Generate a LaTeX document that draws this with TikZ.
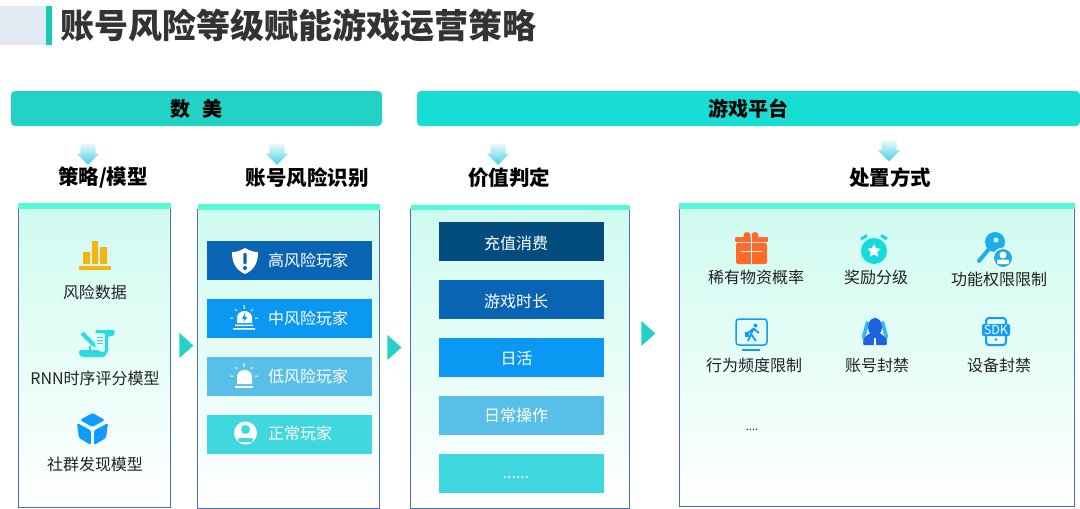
\documentclass[tikz,border=0pt]{standalone}
\usepackage{fontspec}
\setmainfont{Noto Sans CJK SC}
\usetikzlibrary{shapes.geometric,shapes.arrows}
\definecolor{titlepale}{HTML}{E2E9F3}
\definecolor{titleteal}{HTML}{12CDB6}
\definecolor{tealhead}{HTML}{22D2C6}
\definecolor{tealhead2}{HTML}{18DDD4}
\definecolor{tealbar}{HTML}{55F9D9}
\definecolor{panelline}{HTML}{4E6BBC}
\definecolor{panelfill}{HTML}{CFFBF0}
\definecolor{rowa}{HTML}{024C7E}
\definecolor{rowb}{HTML}{0A64B4}
\definecolor{rowc}{HTML}{0A98F2}
\definecolor{rowd}{HTML}{58BFE8}
\definecolor{rowe}{HTML}{3FD8DF}
\definecolor{inktext}{HTML}{222222}
\definecolor{iconblue}{HTML}{0F9BFF}
\definecolor{iconcyan}{HTML}{2ADCE0}
\definecolor{icongold}{HTML}{F5B411}
\definecolor{icongift}{HTML}{FF6A2B}
\definecolor{iconclock}{HTML}{14DCDC}
\definecolor{iconkey}{HTML}{1CAEE8}
\definecolor{icondark}{HTML}{1D63E0}
\definecolor{iconpale}{HTML}{35B8F5}
\tikzset{
  headbar/.style={rounded corners=4pt, minimum height=35pt, inner sep=0pt, font=\bfseries\fontsize{20}{20}\selectfont},
  sechead/.style={font=\bfseries\fontsize{20.5}{21}\selectfont, text=black, inner sep=0pt},
  panel/.style={draw=panelline, line width=1pt, anchor=north west, inner sep=0pt, outer sep=0pt, top color=panelfill, bottom color=white},
  panelcap/.style={fill=tealbar, anchor=north west, inner sep=0pt, outer sep=0pt, minimum height=5.5pt},
  downarr/.style={single arrow, shape border rotate=270, inner ysep=0pt, inner xsep=7.5pt, minimum height=21pt, minimum width=22pt,
    single arrow head extend=3.5pt, single arrow head indent=0pt, top color=rowe!12!white, bottom color=rowe!65!rowd},
  nextarr/.style={isosceles triangle, isosceles triangle stretches, inner sep=0pt, minimum width=25pt, minimum height=14pt, fill=tealhead},
  rowbox/.style={anchor=north west, minimum height=39pt, minimum width=165pt, inner sep=0pt, outer sep=0pt},
  rowtext/.style={anchor=west, inner sep=0pt, text=white, font=\fontsize{16}{16}\selectfont},
  valtext/.style={inner sep=0pt, text=white, font=\fontsize{16}{16}\selectfont},
  itemtext/.style={inner sep=0pt, text=inktext, font=\fontsize{16}{16}\selectfont},
  beacon/.pic={
    \draw[white, line width=1pt] (0,-13) -- (0,-9) (-14,0) -- (-11,0) (14,0) -- (11,0) (-9,-9) -- (-7,-7) (9,-9) -- (7,-7);
  }
}
\begin{document}
\begin{tikzpicture}[x=1pt,y=-1pt]
\useasboundingbox (0,0) rectangle (1080,509);
\fill[white] (0,0) rectangle (1080,509);

\fill[titlepale] (0,6) rectangle (46,45);
\fill[titleteal] (46,6) rectangle (52,45);
\node[anchor=west, inner sep=0pt, text=black!80, font=\bfseries\fontsize{34}{34}\selectfont] (title) at (60,26) {账号风险等级赋能游戏运营策略};

\node[headbar, fill=tealhead, minimum width=371pt] (shumei) at (196.5,108.5) {数\hspace{0.65em}美};
\node[headbar, fill=tealhead2, minimum width=663pt] (platform) at (748.5,108.5) {游戏平台};

\node[downarr] (down1) at (88,150.5) {};
\node[downarr] (down2) at (277,150.5) {};
\node[downarr] (down3) at (498,150.5) {};
\node[downarr] (down4) at (889,147) {};

\node[sechead] (model) at (103,178) {策略/模型};
\node[sechead] (risk) at (307,178) {账号风险识别};
\node[sechead] (value) at (509,178) {价值判定};
\node[sechead] (action) at (890,178) {处置方式};

\node[panel, minimum width=152pt, minimum height=299pt] (panela) at (18.5,208) {};
\node[panel, minimum width=182pt, minimum height=299pt] (panelb) at (197.5,209) {};
\node[panel, minimum width=219pt, minimum height=299pt] (panelc) at (410.5,209) {};
\node[panel, minimum width=395pt, minimum height=298pt] (paneld) at (679.5,208) {};
\node[panelcap, minimum width=153pt] (capa) at (18,203) {};
\node[panelcap, minimum width=182pt] (capb) at (198,204) {};
\node[panelcap, minimum width=219pt] (capc) at (410.5,204.5) {};
\node[panelcap, minimum width=396pt] (capd) at (679,203) {};

\node[nextarr] (next1) at (185,345.5) {};
\node[nextarr] (next2) at (393,347.5) {};
\node[nextarr] (next3) at (647,333.5) {};

% panel a
\fill[icongold] (83,252) rectangle (90,264) (92,241) rectangle (98,264) (100,247) rectangle (107,264) (79,266) rectangle (111,270);
\node[itemtext] (riskdata) at (95,292) {风险数据};
\fill[iconcyan, rounded corners=1.5pt] (95,330) -- (115,330) -- (114,336) -- (108,336) -- (108,352) -- (104,357) -- (81,357) -- (79,354) -- (79,350) -- (100,350) -- (100,352) -- (105,352) -- (105,333) -- (95,333) -- cycle;
\draw[iconcyan, line width=1pt] (97,337) -- (103,337) (97,340) -- (103,340) (97,343) -- (103,343);
\draw[iconcyan, line width=4pt] (82,333) -- (92,343);
\fill[iconcyan] (90,345) -- (94,341) -- (96,347) -- cycle;
\draw[iconcyan, line width=1.2pt] (90,346) -- (90,350);
\node[itemtext] (rnnmodel) at (95,378) {RNN时序评分模型};
\fill[iconblue, rounded corners=1.5pt] (92.5,413) -- (105,420) -- (92.5,427) -- (80,420) -- cycle;
\fill[iconblue, rounded corners=1.5pt] (77,423) -- (91,430.5) -- (91,445) -- (79,438) -- cycle;
\fill[iconblue, rounded corners=1.5pt] (108,423) -- (94,430.5) -- (94,445) -- (106,438) -- cycle;
\node[itemtext] (community) at (95,464) {社群发现模型};

% panel b
\node[rowbox, fill=rowb] (high) at (207,241) {};
\node[rowbox, fill=rowc] (mid) at (207,299) {};
\node[rowbox, fill=rowd] (low) at (207,357) {};
\node[rowbox, fill=rowe] (normal) at (207,415) {};
\node[rowtext] (hightext) at (268,260.5) {高风险玩家};
\node[rowtext] (midtext) at (268,318) {中风险玩家};
\node[rowtext] (lowtext) at (268,376.5) {低风险玩家};
\node[rowtext] (normaltext) at (268,433) {正常玩家};
\fill[white] (245,248) .. controls (238,252) and (235,252) .. (232,252) .. controls (232,263) and (236,270) .. (245,274) .. controls (254,270) and (258,263) .. (258,252) .. controls (255,252) and (252,252) .. (245,248) -- cycle;
\fill[rowb, rounded corners=1pt] (243.3,253) rectangle (246.7,264);
\fill[rowb] (245,268) circle[radius=2];
\pic at (244,318) {beacon};
\fill[white] (237,323) -- (237,318) .. controls (237,314) and (240,311) .. (244.5,311) .. controls (249,311) and (252,314) .. (252,318) -- (252,323) -- cycle;
\fill[rowc] (245,313) -- (242,319) -- (244.5,319) -- (243.5,322) -- (247.5,317) -- (245,317) -- cycle;
\fill[white] (235,324.5) rectangle (253,326) (233,328) rectangle (255,329.5);
\pic at (244,376) {beacon};
\fill[white] (237,384) -- (237,377) .. controls (237,373) and (240,370) .. (244.5,370) .. controls (249,370) and (252,373) .. (252,377) -- (252,384) -- cycle;
\fill[white] (235,386) rectangle (253,387.5);
\fill[white] (245.5,433) circle[radius=11.5];
\fill[rowe] (245.5,429.5) circle[radius=4.5];
\fill[rowe, rounded corners=2pt] (238,442) -- (238,438) -- (253,438) -- (253,442) -- cycle;

% panel c
\node[rowbox, fill=rowa] (recharge) at (439,222) {};
\node[rowbox, fill=rowb] (playtime) at (439,280) {};
\node[rowbox, fill=rowc] (dau) at (439,338) {};
\node[rowbox, fill=rowd] (daily) at (439,396) {};
\node[rowbox, fill=rowe] (moreval) at (439,454) {};
\node[valtext] (rechargetext) at (516,243) {充值消费};
\node[valtext] (playtimetext) at (516,301.5) {游戏时长};
\node[valtext] (dautext) at (516.5,358.5) {日活};
\node[valtext] (dailytext) at (516,415.5) {日常操作};
\node[valtext] (morevaltext) at (516,477.5) {......};

% panel d
\fill[icongift] (747,235.5) circle[radius=3.5] (755,235.5) circle[radius=3.5];
\fill[icongift, rounded corners=1pt] (735,237) rectangle (768,242);
\fill[icongift, rounded corners=2pt] (736,243) rectangle (767,264);
\draw[white, line width=1pt] (751,237) -- (751,264) (741,251) -- (762,251);
\node[itemtext] (rareitem) at (756,277) {稀有物资概率};
\fill[iconclock] (874,251) circle[radius=13];
\draw[iconclock, line width=3pt] (861,239) -- (867,235.5) (887,239) -- (881,235.5);
\node[star, star points=5, star point ratio=2, fill=white, inner sep=0pt, minimum size=14pt] (clockstar) at (874,251) {};
\node[itemtext] (reward) at (876,277) {奖励分级};
\draw[iconkey, line width=4pt, line cap=round] (989,249) -- (979,261);
\fill[iconkey] (995,242) circle[radius=10];
\fill[panelfill] (996,240) circle[radius=2.5];
\fill[white] (1003,258) circle[radius=10.5];
\fill[iconkey] (1003,258) circle[radius=9];
\fill[white] (1003,255) circle[radius=3.5];
\fill[white, rounded corners=1pt] (997,264) rectangle (1009,259.5);
\node[itemtext] (permit) at (999,279) {功能权限限制};
\draw[iconblue, line width=1.5pt, rounded corners=3pt] (736,319) rectangle (767,345);
\draw[iconblue, line width=2pt] (742,349.5) -- (760,349.5);
\fill[iconblue] (755.5,325.5) circle[radius=2];
\draw[iconblue, line width=1.8pt] (754,328) -- (751,334) -- (756,341) (751,334) -- (748,341) (754,329) -- (759,333) (753,329) -- (748,333);
\fill[iconblue] (745,332) rectangle (749,337);
\node[itemtext] (behavior) at (754,365) {行为频度限制};
\fill[iconpale] (862,336) -- (866,321) -- (869,322) -- (866,336) -- (871,342) -- (864,345) -- cycle (888,336) -- (884,321) -- (881,322) -- (884,336) -- (879,342) -- (886,345) -- cycle;
\fill[icondark] (875,327) ellipse[x radius=7, y radius=9];
\fill[icondark, rounded corners=1pt] (870,333) -- (880,333) -- (886,338) -- (887,345) -- (863,345) -- (864,338) -- cycle;
\fill[white] (874.3,338) rectangle (875.7,345);
\node[itemtext] (acctban) at (877,365) {账号封禁};
\draw[iconblue, line width=2pt, rounded corners=3pt] (986,318) rectangle (1006,345);
\node[fill=iconblue, rounded corners=2pt, minimum width=28pt, minimum height=12pt, inner sep=0pt, text=white, font=\fontsize{12.5}{12.5}\selectfont] (sdk) at (996,330) {SDK};
\fill[iconblue] (996,339.5) circle[radius=1.3];
\node[itemtext] (devban) at (999,365) {设备封禁};
\node[inner sep=0pt, text=inktext, font=\fontsize{11}{11}\selectfont] (moreact) at (752,430) {....};
\end{tikzpicture}
\end{document}
